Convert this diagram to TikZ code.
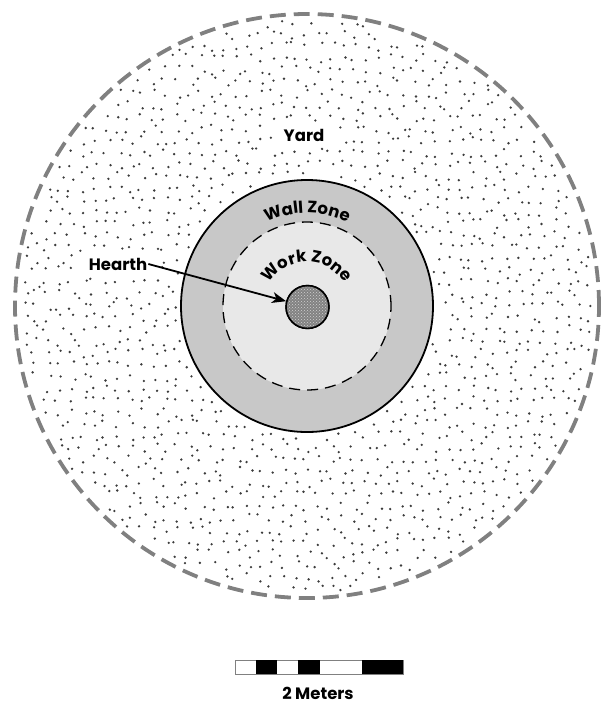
\documentclass[tikz,border=0pt]{standalone}
\usepackage{fontspec}
\setmainfont{Poppins}
\usetikzlibrary{arrows.meta,decorations.text,patterns}
\definecolor{wallc}{RGB}{200,200,200}
\definecolor{workc}{RGB}{232,232,232}
\definecolor{dashc}{RGB}{128,128,128}
\definecolor{dotc}{RGB}{60,60,60}
\definecolor{hearthc}{RGB}{130,130,130}
\tikzset{
  lbl/.style={font=\bfseries\fontsize{16.5}{19}\selectfont, inner sep=1pt},
  yardline/.style={draw=dashc, line width=3.8pt, dash pattern=on 16pt off 8pt},
  wallline/.style={draw=black, line width=1.8pt, fill=wallc},
  workline/.style={draw=black, line width=1.3pt, dash pattern=on 11pt off 7pt},
  hearthstyle/.style={circle, draw=black, line width=1.4pt, fill=hearthc, minimum size=43pt, inner sep=0pt},
  pointer/.style={draw=black, line width=1.8pt, -{Stealth[length=14pt,width=11pt,inset=4pt]}},
  blackseg/.style={fill=black},
  barframe/.style={draw=gray, line width=0.8pt, fill=white}
}
\begin{document}
\begin{tikzpicture}[x=1pt,y=1pt]
\useasboundingbox (0,0) rectangle (606,-705);
\coordinate (c) at (307,-306);
% yard dots
\pgfmathsetseed{12}
\foreach \i in {-25,...,25}{
  \foreach \j in {-25,...,25}{
    \pgfmathsetmacro\px{\i*1.18+0.45*rand}
    \pgfmathsetmacro\py{\j*1.18+0.45*rand}
    \pgfmathsetmacro\rr{\px*\px+\py*\py}
    \pgfmathtruncatemacro\ok{((\rr>172)&&(\rr<820)&&!((abs(\px+0.3)<3.0)&&(abs(\py-17.1)<1.3))&&!((abs(\px+18.9)<4.0)&&(abs(\py-4.2)<1.2)))?1:0}
    \ifnum\ok=1 \fill[dotc] (307+10*\px,-306+10*\py) circle (1.3); \fi
  }
}
% outer yard boundary
\draw[yardline] (c) circle (292);
% wall zone
\draw[wallline] (c) circle (126);
% work zone
\fill[workc] (c) circle (84);
\draw[workline] (c) circle (84);
% hearth
\node[hearthstyle] (hearth) at (307.5,-307) {};
\fill[pattern=crosshatch dots, pattern color=gray!35] (hearth.center) circle (20);
\draw[black, line width=1.4pt] (hearth.center) circle (21.5);
% curved labels
\path[decorate, decoration={text along path, text align=center,
  text={|\bfseries\fontsize{16.5}{19}\selectfont|Wall Zone}}]
  (c) ++(150:93) arc[start angle=150, end angle=30, radius=93];
\path[decorate, decoration={text along path, text align=center,
  text={|\bfseries\fontsize{16.5}{19}\selectfont|Work Zone}}]
  (c) ++(175:44) arc[start angle=175, end angle=5, radius=44];
% yard label
\node[lbl] (yard) at (304,-135) {Yard};
% hearth label + arrow
\node[lbl] (hl) at (118,-264) {Hearth};
\draw[pointer] (hl.east) -- (hearth);
% scale bar
\draw[barframe] (235,-660) rectangle (403,-674);
\fill[blackseg] (256,-660) rectangle (277,-674);
\fill[blackseg] (298,-660) rectangle (320,-674);
\fill[blackseg] (362,-660) rectangle (403,-674);
\node[lbl] (scale) at (318,-693) {2 Meters};
\end{tikzpicture}
\end{document}
